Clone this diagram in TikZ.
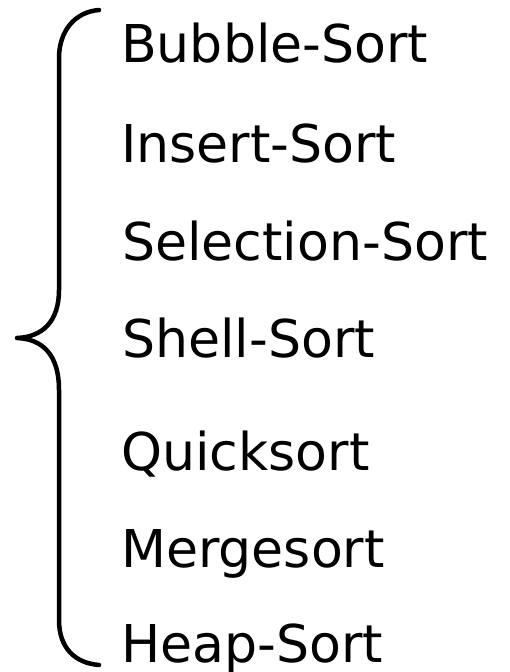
\documentclass[tikz,border=0pt]{standalone}
\usepackage{fontspec}
\setmainfont{DejaVu Sans}
\begin{document}
\begin{tikzpicture}[x=1bp,y=-1bp,
  item/.style={anchor=base west,inner sep=0pt,font=\fontsize{52.3}{60}\selectfont},
  bracestyle/.style={line width=4.5bp,line cap=round,line join=round}]
\useasboundingbox (0,0) rectangle (510,672);
\coordinate (btop) at (99,10);
\coordinate (btip) at (17,338);
\coordinate (bbot) at (99,665);
\draw[bracestyle] (btop) .. controls (74,12) and (59,32) .. (59,58)
  -- (59,290) .. controls (59,322) and (42,337) .. (btip)
  .. controls (42,339) and (59,354) .. (59,390)
  -- (59,620) .. controls (59,647) and (74,663) .. (bbot);
\node[item] (n1) at (121,63) {Bubble-Sort};
\node[item] (n2) at (121,162) {Insert-Sort};
\node[item] (n3) at (122,260) {Selection-Sort};
\node[item] (n4) at (122,357) {Shell-Sort};
\node[item] (n5) at (121,470) {Quicksort};
\node[item] (n6) at (121,567) {Mergesort};
\node[item] (n7) at (121,662) {Heap-Sort};
\end{tikzpicture}
\end{document}
